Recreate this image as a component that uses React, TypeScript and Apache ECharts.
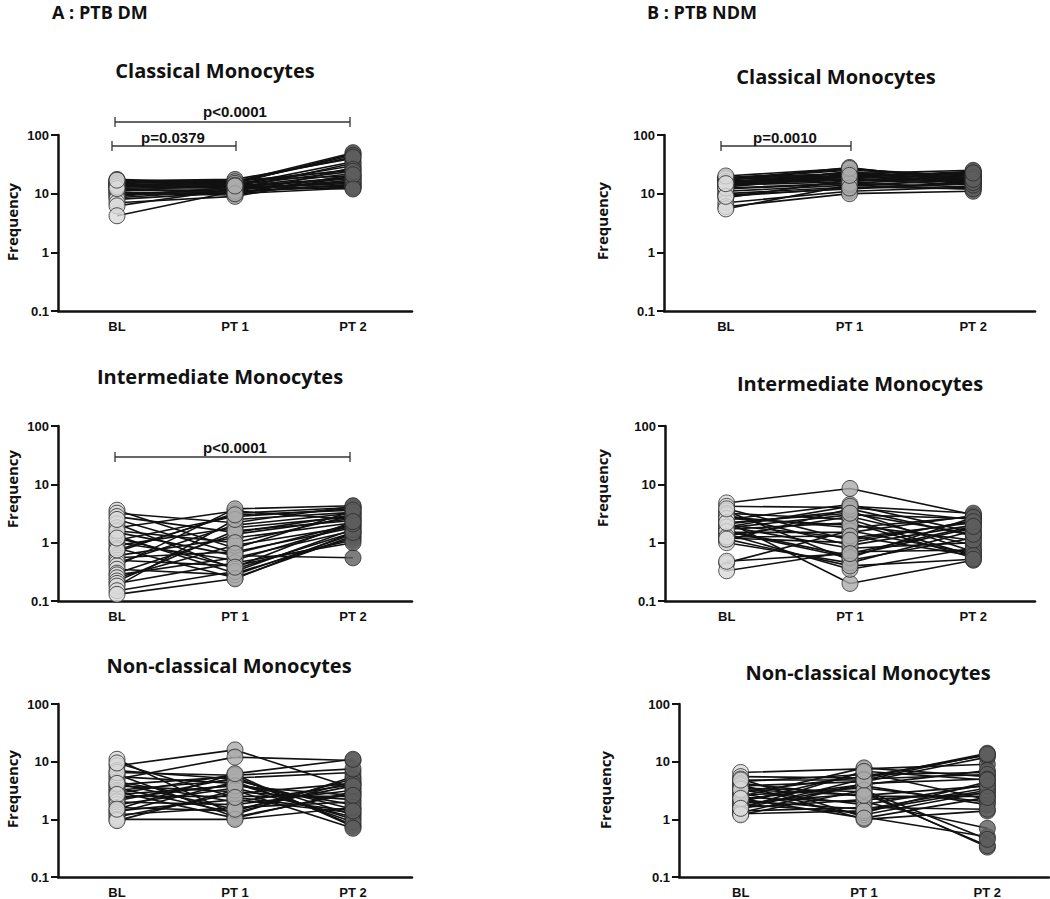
import React, { useEffect, useRef } from "react";
import * as echarts from "echarts";

const CATEGORIES = ["BL", "PT 1", "PT 2"];

// A : PTB DM - Classical
const A_CL_BL = [17.5, 16.8, 16, 15.5, 15, 14.5, 14, 13.5, 13, 12.5, 12, 11.5, 11, 10.5, 10, 9.5, 9, 8.5, 8, 7, 6.2, 4.2, 16.5, 15.2, 14.2, 13.2, 12.2, 17];
const A_CL_PT1 = [15, 16, 14, 17, 13, 12.5, 15.5, 14, 16.5, 13, 12, 11, 14.5, 10, 9.5, 12, 13, 11.5, 10.5, 9, 12, 11, 17.5, 16, 15, 14, 10, 13.5];
const A_CL_PT2 = [48, 50, 35, 20, 18, 15, 45, 30, 25, 22, 16, 14, 13, 12.5, 28, 33, 19, 17, 14.5, 20, 16, 13, 40, 42, 26, 24, 21, 12];

// B : PTB NDM - Classical
const B_CL_BL = [19, 18, 17.5, 17, 16.5, 16, 15.5, 15, 14.5, 14, 13.5, 13, 12, 11, 10, 9.5, 8.5, 7, 6, 5.5, 18.5, 17.8, 16.2, 15.2, 12.5, 9, 20, 14.8];
const B_CL_PT1 = [22, 25, 20, 28, 18, 21, 23, 19, 17, 16, 24, 20, 15, 14, 13, 12, 17, 11, 10, 14, 26, 22, 19, 17.5, 15, 12.5, 27, 20.5];
const B_CL_PT2 = [18, 20, 17, 16, 22, 15, 19, 24, 16, 21, 14, 23, 13, 17, 12, 15, 18, 13, 11, 12, 20, 25, 16.5, 14, 19, 15.5, 17.5, 22.5];

// A : PTB DM - Intermediate
const A_IN_BL = [3.6, 3.2, 2.8, 2.1, 1.8, 1.5, 1.3, 1.1, 1.0, 0.9, 0.8, 0.7, 0.6, 0.55, 0.5, 0.45, 0.4, 0.35, 0.3, 0.28, 0.25, 0.22, 0.2, 0.18, 0.15, 0.13, 1.6, 2.5, 0.75, 1.2];
const A_IN_PT1 = [0.8, 2.2, 1.5, 0.35, 3.5, 0.6, 0.3, 2.8, 0.5, 1.8, 0.25, 3.2, 1.2, 0.7, 0.4, 2.0, 3.8, 0.28, 1.4, 0.55, 0.9, 1.6, 0.45, 2.5, 0.32, 0.24, 1.0, 0.65, 3.0, 0.38];
const A_IN_PT2 = [3.5, 4.2, 3.0, 1.5, 2.5, 0.55, 1.2, 3.8, 2.0, 2.8, 1.3, 4.0, 2.2, 1.8, 1.1, 3.2, 4.3, 1.4, 2.6, 1.6, 1.9, 2.4, 1.0, 3.3, 1.7, 1.5, 2.9, 2.1, 3.6, 2.3];

// B : PTB NDM - Intermediate
const B_IN_BL = [4.8, 4.2, 3.5, 3.2, 2.8, 2.5, 2.3, 2.1, 2.0, 1.9, 1.8, 1.7, 1.6, 1.5, 1.4, 1.3, 1.2, 1.1, 1.0, 0.45, 0.33, 3.0, 2.6, 1.85, 1.55, 1.25, 2.2, 3.8, 1.15, 0.48];
const B_IN_PT1 = [8.5, 4.0, 0.5, 2.5, 1.8, 4.5, 0.2, 3.5, 1.2, 0.8, 3.0, 2.2, 0.6, 1.5, 0.35, 2.8, 1.0, 3.8, 0.45, 1.6, 0.7, 0.9, 2.0, 4.2, 0.55, 1.3, 3.2, 1.1, 0.4, 0.65];
const B_IN_PT2 = [3.0, 2.5, 1.2, 0.6, 2.8, 1.5, 0.5, 0.7, 2.2, 1.0, 2.6, 0.55, 1.8, 2.9, 0.8, 0.9, 2.4, 1.3, 1.6, 0.65, 0.75, 2.0, 1.1, 3.2, 2.7, 0.6, 1.4, 2.3, 0.52, 1.9];

// A : PTB DM - Non-classical
const A_NC_BL = [11, 8.5, 7, 6, 5.5, 5, 4.5, 4, 3.8, 3.5, 3.2, 3, 2.8, 2.5, 2.3, 2.1, 2, 1.8, 1.6, 1.4, 1.3, 1.2, 1.1, 1.0, 0.95, 6.5, 4.2, 2.7, 9.5, 1.5];
const A_NC_PT1 = [1.2, 16, 5, 1.1, 4.2, 12, 2, 5.5, 3, 1.3, 4.8, 1.05, 6, 2.5, 4, 5.2, 1.8, 3.5, 1.4, 2.2, 4.5, 1.6, 2.8, 1.0, 3.2, 5.8, 1.5, 3.8, 2.4, 6.2];
const A_NC_PT2 = [5.5, 3.5, 1.2, 2.8, 1.0, 10.5, 4, 0.8, 2.2, 4.5, 1.5, 3, 0.75, 2.5, 1.8, 6.5, 3.2, 1.1, 5, 1.3, 0.9, 2, 4.2, 1.6, 0.7, 7.5, 3.8, 2.6, 1.4, 11];

// B : PTB NDM - Non-classical
const B_NC_BL = [6.5, 5.5, 5, 4.5, 4.2, 4, 3.8, 3.5, 3.2, 3, 2.8, 2.6, 2.5, 2.4, 2.2, 2.1, 2, 1.9, 1.8, 1.7, 1.6, 1.5, 1.4, 1.3, 1.25, 1.2, 3.3, 2.3, 4.8, 1.55];
const B_NC_PT1 = [7.5, 5.2, 1.1, 6.0, 2.5, 1.0, 4.5, 3.0, 1.8, 5.5, 1.2, 3.5, 7.8, 2.0, 4.0, 1.5, 6.5, 2.8, 1.3, 3.8, 2.2, 5.0, 1.6, 4.2, 1.4, 3.2, 2.6, 1.05, 4.8, 6.8];
const B_NC_PT2 = [9, 14, 0.5, 6.5, 2.5, 1.4, 12, 0.33, 4, 13, 3, 2, 5.5, 0.7, 7, 3.5, 2.2, 0.35, 4.5, 1.8, 2.8, 6, 1.5, 5, 3.2, 0.45, 3.8, 2.4, 13.5, 4.8];

const PANELS = [
  { bl: A_CL_BL, pt1: A_CL_PT1, pt2: A_CL_PT2, grid: { left: 58, top: 135, width: 354, height: 176 } },
  { bl: B_CL_BL, pt1: B_CL_PT1, pt2: B_CL_PT2, grid: { left: 664, top: 135, width: 371, height: 176 } },
  { bl: A_IN_BL, pt1: A_IN_PT1, pt2: A_IN_PT2, grid: { left: 58, top: 426, width: 354, height: 175 } },
  { bl: B_IN_BL, pt1: B_IN_PT1, pt2: B_IN_PT2, grid: { left: 665, top: 426, width: 370, height: 175 } },
  { bl: A_NC_BL, pt1: A_NC_PT1, pt2: A_NC_PT2, grid: { left: 58, top: 704, width: 354, height: 175 } },
  { bl: B_NC_BL, pt1: B_NC_PT1, pt2: B_NC_PT2, grid: { left: 679, top: 704, width: 370, height: 175 } },
];

const POINT_COLORS = ["#d9d9d9", "#ababab", "#5e5e5e"];

const TITLE_FONT = '"Open Sans", "Noto Sans", sans-serif';
const AXIS_FONT = '"Liberation Sans", Arial, sans-serif';

function fmtLog(v: number) {
  if (v >= 1) return String(Math.round(v));
  return String(Math.round(v * 10) / 10);
}

function bracket(x1: number, x2: number, y: number, label: string, lx: number, ly: number) {
  const c = "#333";
  return [
    { type: "line", shape: { x1, y1: y, x2, y2: y }, style: { stroke: c, lineWidth: 1.3 } },
    { type: "line", shape: { x1, y1: y - 5, x2: x1, y2: y + 5 }, style: { stroke: c, lineWidth: 1.3 } },
    { type: "line", shape: { x1: x2, y1: y - 5, x2, y2: y + 5 }, style: { stroke: c, lineWidth: 1.3 } },
    {
      type: "text",
      x: lx,
      y: ly,
      style: { text: label, font: `bold 15px ${AXIS_FONT}`, fill: "#111", align: "center", verticalAlign: "middle" },
    },
  ];
}

function title(text: string, x: number, y: number, size = 20) {
  return {
    type: "text",
    x,
    y,
    style: { text, font: `bold ${size}px ${TITLE_FONT}`, fill: "#111", align: "center", verticalAlign: "middle" },
  };
}

function freq(x: number, y: number) {
  return {
    type: "text",
    x,
    y,
    rotation: Math.PI / 2,
    style: { text: "Frequency", font: `bold 15px ${TITLE_FONT}`, fill: "#111", align: "center", verticalAlign: "middle" },
  };
}

export default function App() {
  const ref = useRef<HTMLDivElement>(null);
  useEffect(() => {
    document.body.style.margin = "0";
    if (!ref.current) return;
    const chart = echarts.init(ref.current, null, { renderer: "svg" });

    const grids: any[] = [];
    const xAxes: any[] = [];
    const yAxes: any[] = [];
    const series: any[] = [];

    PANELS.forEach((p, gi) => {
      grids.push({ ...p.grid, containLabel: false });
      xAxes.push({
        type: "category",
        gridIndex: gi,
        data: CATEGORIES,
        boundaryGap: true,
        axisLine: { lineStyle: { color: "#111", width: 2.5 } },
        axisTick: { alignWithLabel: true, length: 5, lineStyle: { color: "#111", width: 2 } },
        axisLabel: { fontFamily: AXIS_FONT, fontWeight: "bold", fontSize: 13, color: "#111", margin: 9 },
        splitLine: { show: false },
      });
      yAxes.push({
        type: "log",
        logBase: 10,
        gridIndex: gi,
        min: 0.1,
        max: 100,
        axisLine: { show: true, lineStyle: { color: "#111", width: 2.5 } },
        axisTick: { show: true, length: 7, lineStyle: { color: "#111", width: 2 } },
        axisLabel: {
          fontFamily: AXIS_FONT,
          fontWeight: "bold",
          fontSize: 13,
          color: "#111",
          margin: 9,
          formatter: (v: number) => fmtLog(v),
        },
        splitLine: { show: false },
        minorTick: { show: false },
      });
      const cols = [p.bl, p.pt1, p.pt2];
      for (let i = 0; i < p.bl.length; i++) {
        series.push({
          type: "line",
          xAxisIndex: gi,
          yAxisIndex: gi,
          data: [p.bl[i], p.pt1[i], p.pt2[i]],
          symbol: "none",
          lineStyle: { color: "#111", width: 1.6 },
          z: 2,
          silent: true,
        });
      }
      cols.forEach((arr, ci) => {
        series.push({
          type: "scatter",
          xAxisIndex: gi,
          yAxisIndex: gi,
          data: arr.map((v) => [ci, v]),
          symbol: "circle",
          symbolSize: 16,
          itemStyle: { color: POINT_COLORS[ci], borderColor: "#2a2a2a", borderWidth: 1 },
          z: 3,
          silent: true,
        });
      });
    });

    const graphic: any[] = [
      {
        type: "text",
        x: 52,
        y: 12,
        style: { text: "A : PTB DM", font: `bold 18px ${TITLE_FONT}`, fill: "#111", verticalAlign: "middle" },
      },
      {
        type: "text",
        x: 647,
        y: 12,
        style: { text: "B : PTB NDM", font: `bold 18px ${TITLE_FONT}`, fill: "#111", verticalAlign: "middle" },
      },
      title("Classical Monocytes", 215, 70),
      title("Classical Monocytes", 836, 76),
      title("Intermediate Monocytes", 220, 376),
      title("Intermediate Monocytes", 860, 383),
      title("Non-classical Monocytes", 229, 665),
      title("Non-classical Monocytes", 868, 672),
      freq(12, 222),
      freq(602, 221),
      freq(12, 489),
      freq(602, 488),
      freq(12, 789),
      freq(605, 790),
      ...bracket(115, 350, 122, "p<0.0001", 235, 111),
      ...bracket(112, 236, 146, "p=0.0379", 173, 137),
      ...bracket(721, 851, 146, "p=0.0010", 785, 137),
      ...bracket(115, 350, 457, "p<0.0001", 235, 447),
    ];

    chart.setOption({
      animation: false,
      backgroundColor: "#ffffff",
      grid: grids,
      xAxis: xAxes,
      yAxis: yAxes,
      series,
      graphic,
    });
    return () => chart.dispose();
  }, []);
  return <div ref={ref} style={{ width: 1050, height: 899 }} />;
}
